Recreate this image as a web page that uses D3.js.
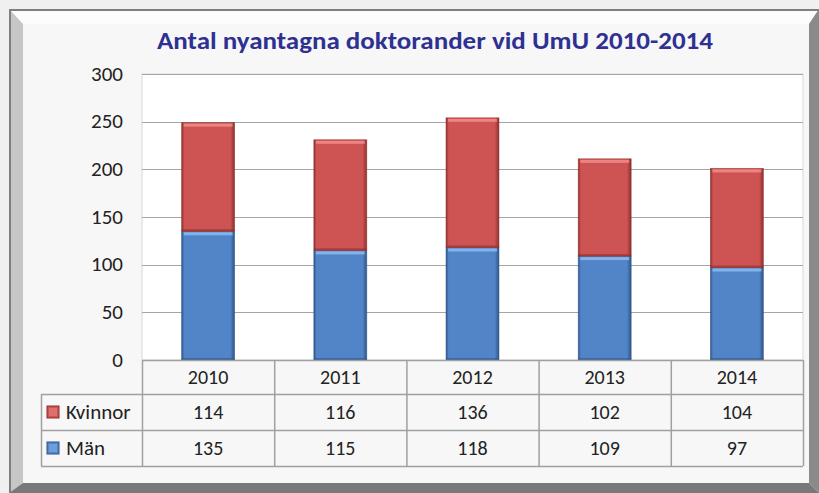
<!DOCTYPE html>
<html>
<head>
<meta charset="utf-8">
<script src="https://cdn.jsdelivr.net/npm/d3@7"></script>
<style>
body{margin:0;padding:0;background:#f0f0f0;}
svg{display:block;}
</style>
</head>
<body>
<svg id="chart" width="819" height="493"></svg>
<script>
// data
var years = ["2010","2011","2012","2013","2014"];
var kvinnor = [114,116,136,102,104];
var man = [135,115,118,109,97];
var seriesNames = ["Kvinnor","Män"];
var yTicks = [0,50,100,150,200,250,300];

var W = 819, H = 493;
var plotL = 142, plotR = 803, plotT = 74, plotB = 360;
var tableL = 41, rowH = 36, headH = 34;
var font = "Calibri, Carlito, 'Open Sans', sans-serif";

var svg = d3.select("#chart");
var defs = svg.append("defs");

// frame
svg.append("rect").attr("width",W).attr("height",H).attr("fill","#f0f0f0");
svg.append("polygon").attr("points","9,9 819,9 809,24 23,24").attr("fill","#fcfcfc");
svg.append("polygon").attr("points","9,9 23,24 23,483 9,493").attr("fill","#c6c6c6");
svg.append("polygon").attr("points","819,9 819,493 809,483 809,24").attr("fill","#8a8a8a");
svg.append("polygon").attr("points","9,493 23,483 809,483 819,493").attr("fill","#787878");
svg.append("rect").attr("x",9).attr("y",9).attr("width",810).attr("height",2).attr("fill","#7f7f7f");
svg.append("rect").attr("x",9).attr("y",9).attr("width",2).attr("height",484).attr("fill","#7f7f7f");
svg.append("rect").attr("x",23).attr("y",24).attr("width",786).attr("height",459).attr("fill","#f7f7f7");

// title
svg.append("text")
	.attr("x",435).attr("y",49)
	.attr("text-anchor","middle")
	.attr("font-family",font)
	.attr("font-weight","bold")
	.attr("font-size","24px")
	.attr("fill","#2e3192")
	.attr("textLength",556)
	.attr("lengthAdjust","spacingAndGlyphs")
	.text("Antal nyantagna doktorander vid UmU 2010-2014");

var x = d3.scaleBand().domain(years).range([plotL,plotR]).paddingInner(0.6).paddingOuter(0.3);
var xc = d3.scaleBand().domain(years).range([plotL,plotR]);
var y = d3.scaleLinear().domain([0,300]).range([plotB,plotT]);

// plot area
svg.append("rect").attr("x",plotL).attr("y",plotT).attr("width",plotR-plotL).attr("height",plotB-plotT)
	.attr("fill","#ffffff").attr("stroke","#d9d9d9");

svg.append("g").selectAll("line").data(yTicks.slice(1)).enter().append("line")
	.attr("x1",plotL).attr("x2",plotR)
	.attr("y1",function(d){return Math.round(y(d))+0.5;})
	.attr("y2",function(d){return Math.round(y(d))+0.5;})
	.attr("stroke","#a6a6a6").attr("stroke-width",1.2);

var yAxis = svg.append("g").attr("transform","translate(" + 123 + ",0)")
	.call(d3.axisLeft(y).tickValues(yTicks).tickSize(0).tickPadding(0));
yAxis.select(".domain").remove();
yAxis.selectAll("text").attr("font-family",font).attr("font-size","21px").attr("fill","#222").attr("dy","0.3em");

// bevel gradients
function makeGrad(id, base, dark){
	var g = defs.append("linearGradient").attr("id",id).attr("x1","0").attr("x2","1").attr("y1","0").attr("y2","0");
	g.append("stop").attr("offset","0").attr("stop-color",dark);
	g.append("stop").attr("offset","0.05").attr("stop-color",base);
	g.append("stop").attr("offset","0.92").attr("stop-color",base);
	g.append("stop").attr("offset","1").attr("stop-color",dark);
}
makeGrad("gRed","#cd5452","#8e2f2d");
makeGrad("gBlue","#5285c8","#2e558a");

var colors = {"Kvinnor":{fill:"url(#gRed)",light:"#ee8a88",base:"#cd5452",dark:"#8e2f2d"},
	"Män":{fill:"url(#gBlue)",light:"#8ab7ec",base:"#5285c8",dark:"#2e558a"}};

var stackData = years.map(function(yr,i){return {year:yr,"Män":man[i],"Kvinnor":kvinnor[i]};});
var stacked = d3.stack().keys(["Män","Kvinnor"])(stackData);

var bars = svg.append("g");
stacked.forEach(function(layer){
	var c = colors[layer.key];
	layer.forEach(function(d){
		var bx = x(d.data.year), bw = x.bandwidth();
		var y0 = y(d[0]), y1 = y(d[1]);
		var g = bars.append("g");
		g.append("rect").attr("x",bx).attr("y",y1).attr("width",bw).attr("height",y0-y1).attr("fill",c.fill);
		g.append("rect").attr("x",bx+2).attr("y",y1+1).attr("width",bw-4).attr("height",3).attr("fill",c.light).attr("opacity",0.9);
		g.append("rect").attr("x",bx).attr("y",y0-2).attr("width",bw).attr("height",2).attr("fill",c.dark).attr("opacity",0.6);
		g.append("rect").attr("x",bx).attr("y",y1).attr("width",bw).attr("height",y0-y1)
			.attr("fill","none").attr("stroke",c.dark).attr("stroke-width",0.8).attr("opacity",0.7);
	});
});

// data table
var tbl = svg.append("g");
var lineColor = "#a0a0a0";
var rowsY = [plotB, plotB+headH, plotB+headH+rowH, plotB+headH+rowH*2];
tbl.append("line").attr("x1",plotL).attr("x2",plotR).attr("y1",rowsY[0]+0.5).attr("y2",rowsY[0]+0.5).attr("stroke",lineColor).attr("stroke-width",1.5);
[1,2,3].forEach(function(r){
	tbl.append("line").attr("x1",tableL).attr("x2",plotR).attr("y1",rowsY[r]+0.5).attr("y2",rowsY[r]+0.5).attr("stroke",lineColor).attr("stroke-width",1.5);
});
tbl.append("line").attr("x1",tableL+0.5).attr("x2",tableL+0.5).attr("y1",rowsY[1]).attr("y2",rowsY[3]).attr("stroke",lineColor).attr("stroke-width",1.5);
years.forEach(function(yr){
	var xx = xc(yr);
	tbl.append("line").attr("x1",xx+0.5).attr("x2",xx+0.5).attr("y1",rowsY[0]).attr("y2",rowsY[3]).attr("stroke",lineColor).attr("stroke-width",1.5);
});
tbl.append("line").attr("x1",plotR+0.5).attr("x2",plotR+0.5).attr("y1",rowsY[0]).attr("y2",rowsY[3]).attr("stroke",lineColor).attr("stroke-width",1.5);

tbl.selectAll("text.hd").data(years).enter().append("text")
	.attr("x",function(d){return xc(d)+xc.bandwidth()/2;})
	.attr("y",(rowsY[0]+rowsY[1])/2)
	.attr("dy","0.35em").attr("text-anchor","middle")
	.attr("font-family",font).attr("font-size","20px").attr("fill","#222")
	.text(function(d){return d;});

var rowsData = [kvinnor, man];
seriesNames.forEach(function(name,r){
	var cy = (rowsY[r+1]+rowsY[r+2])/2;
	var c = colors[name];
	tbl.append("rect").attr("x",47).attr("y",cy-6).attr("width",12).attr("height",12).attr("fill",c.base).attr("stroke",c.dark).attr("stroke-width",1);
	tbl.append("rect").attr("x",49).attr("y",cy-4).attr("width",8).attr("height",8).attr("fill",c.light).attr("opacity",0.5);
	tbl.append("text").attr("x",66).attr("y",cy).attr("dy","0.35em")
		.attr("font-family",font).attr("font-size","21px").attr("fill","#222").text(name);
	tbl.selectAll("text.v"+r).data(rowsData[r]).enter().append("text")
		.attr("x",function(d,i){return xc(years[i])+xc.bandwidth()/2;})
		.attr("y",cy).attr("dy","0.35em").attr("text-anchor","middle")
		.attr("font-family",font).attr("font-size","20px").attr("fill","#222")
		.text(function(d){return d;});
});
</script>
</body>
</html>
